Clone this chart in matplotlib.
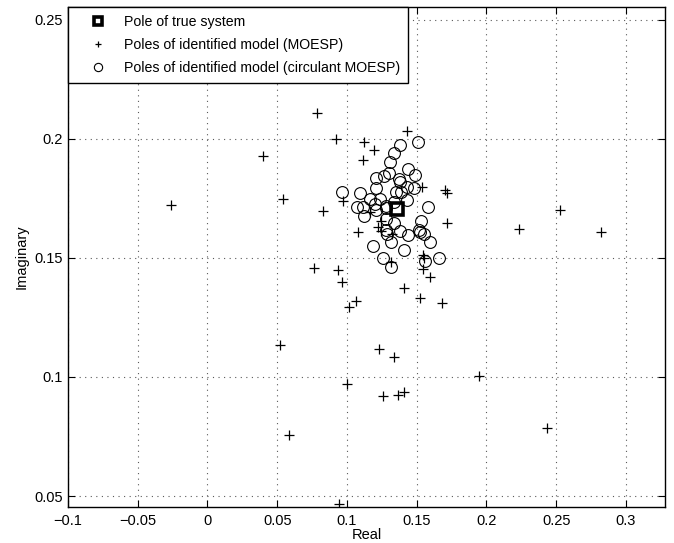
import matplotlib
matplotlib.use('Agg')
import matplotlib.pyplot as plt
import numpy as np

plt.rcParams['font.family'] = ['Liberation Sans', 'DejaVu Sans']

# pole of the true system
true_re = [0.1358]
true_im = [0.1706]

# poles of identified model (MOESP)
moesp_re = [-0.0259, 0.0396, 0.0784, 0.0918, 0.1119, 0.1430, 0.1191, 0.1112,
            0.0540, 0.0968, 0.0827, 0.1166, 0.1536, 0.1701, 0.1719, 0.1717,
            0.1245, 0.1222, 0.1246, 0.1078, 0.1325, 0.1545, 0.1550, 0.1543,
            0.1593, 0.1313, 0.0767, 0.0935, 0.0966, 0.1408, 0.2234, 0.2526,
            0.2818, 0.1014, 0.1067, 0.1526, 0.1684, 0.0521, 0.1229, 0.1340,
            0.1002, 0.1947, 0.1258, 0.1363, 0.1408, 0.0581, 0.2431, 0.0942]
moesp_im = [0.1722, 0.1928, 0.2110, 0.2001, 0.1986, 0.2033, 0.1953, 0.1911,
            0.1749, 0.1741, 0.1697, 0.1695, 0.1799, 0.1785, 0.1773, 0.1646,
            0.1657, 0.1630, 0.1615, 0.1611, 0.1601, 0.1513, 0.1501, 0.1455,
            0.1419, 0.1485, 0.1457, 0.1450, 0.1401, 0.1374, 0.1620, 0.1702,
            0.1608, 0.1293, 0.1321, 0.1331, 0.1310, 0.1135, 0.1117, 0.1083,
            0.0970, 0.1006, 0.0921, 0.0925, 0.0936, 0.0756, 0.0785, 0.0467]

# poles of identified model (circulant MOESP)
circ_re = [0.1509, 0.1383, 0.1335, 0.1308, 0.1437, 0.1485, 0.1301, 0.1265,
           0.1210, 0.1373, 0.1378, 0.1433, 0.1482, 0.1210, 0.1351, 0.1385,
           0.1090, 0.0961, 0.1162, 0.1240, 0.1433, 0.1340, 0.1277, 0.1202,
           0.1282, 0.1074, 0.1114, 0.1207, 0.1121, 0.1581, 0.1279, 0.1531,
           0.1340, 0.1281, 0.1378, 0.1518, 0.1526, 0.1551, 0.1288, 0.1437,
           0.1314, 0.1598, 0.1186, 0.1406, 0.1256, 0.1659, 0.1559, 0.1313]
circ_im = [0.1988, 0.1974, 0.1940, 0.1902, 0.1874, 0.1848, 0.1856, 0.1846,
           0.1837, 0.1830, 0.1818, 0.1797, 0.1792, 0.1792, 0.1778, 0.1776,
           0.1773, 0.1776, 0.1749, 0.1747, 0.1745, 0.1736, 0.1720, 0.1727,
           0.1711, 0.1713, 0.1715, 0.1700, 0.1677, 0.1715, 0.1664, 0.1657,
           0.1646, 0.1618, 0.1613, 0.1618, 0.1609, 0.1601, 0.1600, 0.1597,
           0.1565, 0.1566, 0.1552, 0.1534, 0.1500, 0.1499, 0.1486, 0.1463]

xticks = [-0.1, -0.05, 0, 0.05, 0.1, 0.15, 0.2, 0.25, 0.3]
xticklabels = ['\u22120.1', '\u22120.05', '0', '0.05', '0.1', '0.15', '0.2', '0.25', '0.3']
yticks = [0.05, 0.1, 0.15, 0.2, 0.25]
yticklabels = ['0.05', '0.1', '0.15', '0.2', '0.25']

fig = plt.figure(figsize=(6.74, 5.43), dpi=100)
ax = fig.add_axes([68 / 674, 36 / 543, 597 / 674, 500 / 543])

ax.plot(true_re, true_im, 's', color='k', mfc='none', ms=9, mew=2.6,
        label='Pole of true system', zorder=5)
ax.plot(moesp_re, moesp_im, '+', color='k', ms=7, mew=0.9,
        label='Poles of identified model (MOESP)')
ax.plot(circ_re, circ_im, 'o', color='k', mfc='none', ms=8.5, mew=0.8,
        label='Poles of identified model (circulant MOESP)')

ax.set_xlim(-0.1, 0.328)
ax.set_ylim(0.0454, 0.2554)
ax.set_xticks(xticks)
ax.set_xticklabels(xticklabels)
ax.set_yticks(yticks)
ax.set_yticklabels(yticklabels)
ax.tick_params(direction='in', top=True, right=True, labelsize=10.5, length=5)
ax.tick_params(axis='x', pad=5)
ax.grid(True, linestyle=(0, (1, 4)), color='0.35', linewidth=0.8)
for s in ax.spines.values():
    s.set_linewidth(1.0)

ax.set_xlabel('Real', fontsize=10.5, labelpad=0)
ax.set_ylabel('Imaginary', fontsize=10.5, labelpad=4)

leg = ax.legend(loc='upper left', fontsize=10.2, fancybox=False, framealpha=1,
                edgecolor='k', borderaxespad=0, markerscale=0.7,
                handlelength=3.1, handletextpad=0.3, labelspacing=0.65,
                borderpad=0.55)
leg.get_frame().set_linewidth(1.0)

fig.savefig('out.png', dpi=100)
